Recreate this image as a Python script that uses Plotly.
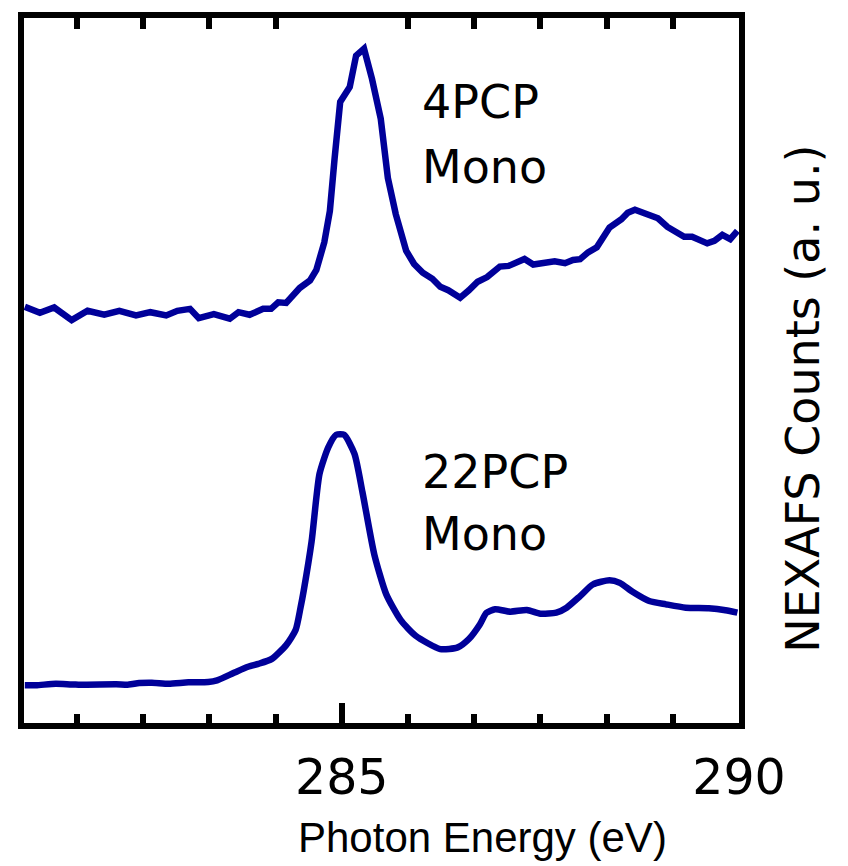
import plotly.graph_objects as go

# 4PCP Mono spectrum (photon energy in eV, NEXAFS counts in a.u.)
energy_4pcp = [281.01, 281.20, 281.38, 281.60, 281.80, 282.01, 282.20, 282.41, 282.59, 282.79,
               282.93, 283.09, 283.20, 283.39, 283.59, 283.70, 283.84, 284.01, 284.11, 284.20,
               284.30, 284.47, 284.60, 284.68, 284.78, 284.85, 284.91, 284.98, 285.10, 285.18,
               285.28, 285.38, 285.49, 285.58, 285.68, 285.81, 285.91, 286.02, 286.14, 286.24,
               286.34, 286.49, 286.60, 286.71, 286.83, 286.99, 287.10, 287.20, 287.30, 287.41,
               287.54, 287.68, 287.81, 287.91, 288.00, 288.10, 288.21, 288.37, 288.52, 288.60,
               288.69, 288.83, 288.98, 289.10, 289.21, 289.31, 289.41, 289.60, 289.69, 289.79,
               289.89, 289.98]
counts_4pcp = [59.09, 58.26, 59.00, 57.22, 58.54, 57.98, 58.54, 57.88, 58.34, 57.88,
               58.54, 58.81, 57.50, 58.06, 57.42, 58.34, 57.98, 58.81, 58.81, 59.74,
               59.65, 61.74, 62.80, 64.30, 68.16, 72.57, 80.01, 87.91, 90.00, 94.42,
               95.40, 91.17, 85.59, 77.22, 72.11, 66.99, 65.13, 63.88, 63.04, 61.92,
               61.44, 60.39, 61.41, 62.62, 63.28, 64.76, 64.85, 65.23, 65.83, 65.04,
               65.23, 65.51, 65.23, 65.69, 65.79, 66.76, 67.46, 70.25, 71.41, 72.34,
               72.76, 72.11, 71.55, 70.33, 69.69, 68.94, 68.94, 68.02, 68.38, 69.22,
               68.62, 69.78]

# 22PCP Mono spectrum
energy_22pcp = [281.01, 281.15, 281.40, 281.65, 282.16, 282.32, 282.45, 282.61, 282.82, 283.07,
                283.32, 283.43, 283.66, 283.82, 283.95, 284.12, 284.30, 284.42, 284.48, 284.52,
                284.62, 284.72, 284.83, 284.93, 285.03, 285.16, 285.26, 285.41, 285.56, 285.74,
                285.93, 286.24, 286.46, 286.60, 286.74, 286.82, 286.93, 287.12, 287.33, 287.50,
                287.70, 287.83, 288.00, 288.16, 288.37, 288.50, 288.66, 288.87, 289.08, 289.33,
                289.62, 289.83, 289.98]
counts_22pcp = [5.86, 5.86, 6.09, 5.96, 6.00, 5.96, 6.18, 6.23, 6.09, 6.28,
                6.32, 6.56, 7.71, 8.47, 8.88, 9.58, 11.51, 13.67, 16.74, 19.11,
                26.08, 35.61, 39.33, 41.10, 41.10, 38.40, 33.05, 24.23, 18.65, 15.06,
                12.83, 10.95, 11.20, 12.37, 14.46, 16.04, 16.56, 16.22, 16.46, 15.94,
                16.08, 16.78, 18.41, 20.04, 20.64, 20.27, 19.01, 17.71, 17.25, 16.78,
                16.69, 16.42, 16.08]

major_ticks = [285, 290]
major_labels = ["285", "290"]
minor_ticks = [281.667, 282.5, 283.333, 284.167, 285.833, 286.667, 287.5, 288.333, 289.167]
y_ticks = [76.7]

x_range = [281, 290]
y_range = [0.56, 99.72]

LINE = "#000099"

fig = go.Figure()
fig.add_trace(go.Scatter(x=energy_4pcp, y=counts_4pcp, mode="lines",
                         line=dict(color=LINE, width=6.5), showlegend=False))
fig.add_trace(go.Scatter(x=energy_22pcp, y=counts_22pcp, mode="lines",
                         line=dict(color=LINE, width=6.5, shape="spline", smoothing=0.6),
                         showlegend=False))
# invisible trace to activate the top axis
fig.add_trace(go.Scatter(x=[x_range[0]], y=[y_range[0]], xaxis="x2", mode="markers",
                         marker=dict(opacity=0), showlegend=False, hoverinfo="skip"))

fig.update_layout(
    width=848, height=866,
    margin=dict(l=24, r=109, t=12, b=143),
    paper_bgcolor="white", plot_bgcolor="white",
    font=dict(family="DejaVu Sans", color="black"),
    xaxis=dict(range=x_range, showgrid=False, zeroline=False,
               showline=True, linecolor="black", linewidth=6, mirror=True,
               tickmode="array", tickvals=major_ticks, ticktext=major_labels,
               ticks="inside", ticklen=20, tickwidth=6, tickcolor="black",
               tickfont=dict(family="DejaVu Sans", size=49, color="black"),
               ticklabelstandoff=6,
               minor=dict(tickmode="array", tickvals=minor_ticks, ticks="inside",
                          ticklen=9, tickwidth=6, tickcolor="black")),
    xaxis2=dict(range=x_range, overlaying="x", side="top", showgrid=False,
                zeroline=False, showline=False, showticklabels=False,
                tickmode="array", tickvals=minor_ticks, ticks="inside",
                ticklen=11, tickwidth=6, tickcolor="black"),
    yaxis=dict(range=y_range, showgrid=False, zeroline=False,
               showline=True, linecolor="black", linewidth=6, mirror="ticks",
               tickmode="array", tickvals=y_ticks, showticklabels=False,
               ticks="inside", ticklen=4, tickwidth=2, tickcolor="white"),
)

text_font = dict(family="DejaVu Sans", size=46, color="black")
labels = [("4PCP", 285.99, 97), ("Mono", 285.99, 162),
          ("22PCP", 285.99, 470), ("Mono", 285.99, 532)]
for txt, xv, ypx in labels:
    fig.add_annotation(x=xv, xref="x", y=1 - (ypx - 12) / 711, yref="paper",
                       text=txt, showarrow=False, xanchor="left", yanchor="middle",
                       font=text_font)

fig.add_annotation(x=(482 - 24) / 715, xref="paper", y=-(838 - 723) / 711, yref="paper",
                   text="Photon Energy (eV)", showarrow=False, xanchor="center",
                   yanchor="middle", font=dict(family="Arial", size=42, color="black"))
fig.add_annotation(x=(803 - 24) / 715, xref="paper", y=1 - (396 - 12) / 711, yref="paper",
                   text="NEXAFS Counts (a. u.)", showarrow=False, textangle=-90,
                   xanchor="center", yanchor="middle",
                   font=dict(family="DejaVu Sans", size=46, color="black"))

fig.write_html("out.html")
